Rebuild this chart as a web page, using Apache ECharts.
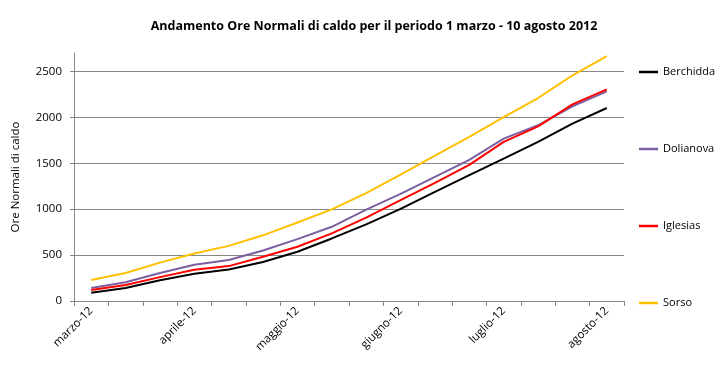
<!DOCTYPE html>
<html>
<head>
<meta charset="utf-8">
<script src="https://cdn.jsdelivr.net/npm/echarts@6/dist/echarts.min.js"></script>
<style>html,body{margin:0;padding:0;background:#fff}#c{width:723px;height:374px}</style>
</head>
<body>
<div id="c"></div>
<script>
// 16 decades, 1 March - 10 August 2012
const categories = ['1 mar','11 mar','21 mar','1 apr','11 apr','21 apr','1 mag','11 mag','21 mag','1 giu','11 giu','21 giu','1 lug','11 lug','21 lug','1 ago'];
const monthLabels = ['marzo-12','aprile-12','maggio-12','giugno-12','luglio-12','agosto-12'];
const yTicks = [0,500,1000,1500,2000,2500];
const berchidda = [90,142,225,297,344,425,536,681,835,1003,1188,1370,1551,1732,1931,2101];
const dolianova = [142,205,305,395,446,550,674,808,995,1166,1351,1537,1768,1913,2120,2283];
const iglesias  = [120,174,260,340,380,482,591,736,908,1098,1286,1482,1732,1902,2141,2304];
const sorso     = [228,305,418,518,600,715,855,997,1175,1377,1583,1788,2003,2210,2457,2666];

const FONT = 'Open Sans';
const chart = echarts.init(document.getElementById('c'));
const mk = (name, data, color) => ({
  name, type: 'line', data, symbol: 'none', smooth: false,
  lineStyle: { color, width: 2 }, itemStyle: { color }
});
chart.setOption({
  animation: false,
  textStyle: { fontFamily: FONT },
  title: {
    text: 'Andamento Ore Normali di caldo per il periodo 1 marzo - 10 agosto 2012',
    left: 369, top: 15, textAlign: 'center',
    textStyle: { fontFamily: FONT, fontSize: 12.5, fontWeight: 'bold', color: '#000' }
  },
  grid: { left: 74, right: 99, top: 53, bottom: 73, containLabel: false },
  legend: {
    orient: 'vertical', left: 634, top: 60,
    icon: 'rect', itemWidth: 19, itemHeight: 2.5, itemGap: 63,
    textStyle: { fontFamily: FONT, fontSize: 11, color: '#000', lineHeight: 14 },
    data: ['Berchidda','Dolianova','Iglesias','Sorso']
  },
  xAxis: {
    type: 'category', data: categories, boundaryGap: true,
    axisLine: { lineStyle: { color: '#868686', width: 1 } },
    axisTick: { show: true, interval: 0, length: 5, lineStyle: { color: '#868686' } },
    axisLabel: {
      interval: 2, rotate: 45, margin: 8, fontSize: 11.5, color: '#000', fontFamily: FONT,
      formatter: (v, i) => monthLabels[Math.round(i / 3)]
    },
    splitLine: { show: false }
  },
  yAxis: {
    type: 'value', min: 0, max: 2700, interval: 500,
    name: 'Ore Normali di caldo', nameLocation: 'middle', nameGap: 52, nameRotate: 90,
    nameTextStyle: { fontFamily: FONT, fontSize: 11.5, color: '#000' },
    axisLine: { show: true, lineStyle: { color: '#868686', width: 1 } },
    axisTick: { show: true, length: 4, customValues: yTicks, lineStyle: { color: '#868686' } },
    axisLabel: { margin: 12, fontSize: 11.5, color: '#000', fontFamily: FONT, customValues: yTicks,
      formatter: v => String(v) },
    splitLine: { show: true, lineStyle: { color: '#868686', width: 1 } }
  },
  series: [
    mk('Berchidda', berchidda, '#000000'),
    mk('Dolianova', dolianova, '#7B5FA0'),
    mk('Iglesias', iglesias, '#FF0000'),
    mk('Sorso', sorso, '#FFC000')
  ]
});
</script>
</body>
</html>
